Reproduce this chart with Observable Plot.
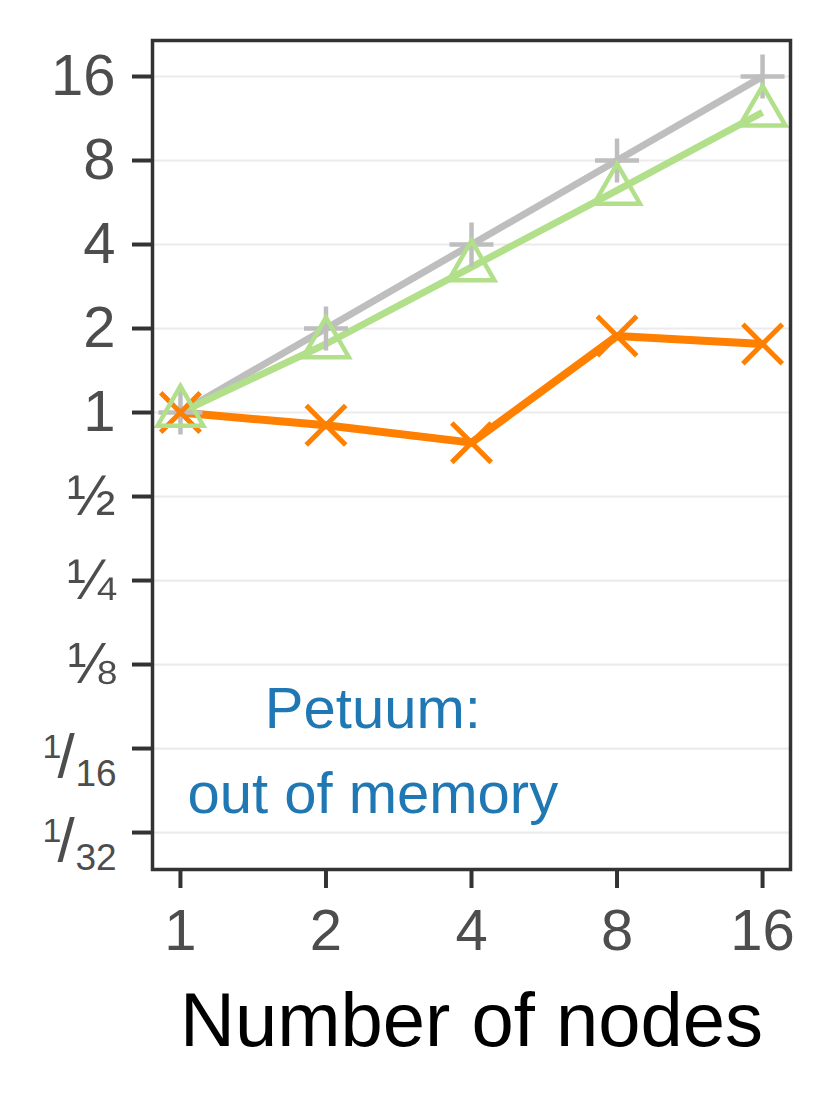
<!DOCTYPE html>
<html><head><meta charset="utf-8">
<script src="https://cdn.jsdelivr.net/npm/d3@7"></script>
<script src="https://cdn.jsdelivr.net/npm/@observablehq/plot@0.6"></script>
<style>body{margin:0;background:#fff}</style>
</head><body><div id="chart"></div>
<script>
// ---- data ----
const nodes = [1, 2, 4, 8, 16];
const idealSpeedup = [1, 2, 4, 8, 16];
const greenSpeedup = [1, 1.76, 3.32, 6.25, 11.9];
const orangeSpeedup = [1, 0.90, 0.78, 1.88, 1.76];
const xTicks = [1, 2, 4, 8, 16];
const yTicks = [16, 8, 4, 2, 1, 1/2, 1/4, 1/8, 1/16, 1/32];
const yTickLabels = ["16", "8", "4", "2", "1", "½", "¼", "⅛", "", ""];
const fracValues = [1/16, 1/32];
const fracNums = ["1", "1"];
const fracDens = ["16", "32"];
const fracSlash = "/";
const xLabel = "Number of nodes";
const note = "Petuum:\nout of memory";
const noteX = 2.5, noteY = 0.0368;

// ---- chart ----
const ink = "#4d4d4d", axisInk = "#333333";
const labelOf = new Map(yTicks.map((t, i) => [t, yTickLabels[i]]));
const fracStyle = {y: Plot.identity, frameAnchor: "left", textAnchor: "start", lineAnchor: "bottom", fill: ink};
const lineStyle = {strokeLinecap: "butt", strokeLinejoin: "round"};

const plot = Plot.plot({
  width: 830, height: 1112,
  marginTop: 40, marginRight: 40, marginBottom: 243, marginLeft: 152,
  style: {fontFamily: "'Liberation Sans', Arial, Helvetica, sans-serif", background: "#fff", overflow: "visible"},
  x: {type: "log", base: 2, domain: [2 ** -0.192, 2 ** 4.192]},
  y: {type: "log", base: 2, domain: [2 ** -5.44, 2 ** 4.4286]},
  marks: [
    Plot.gridY({ticks: yTicks, stroke: "#ebebeb", strokeOpacity: 1, strokeWidth: 2.2}),
    Plot.axisY({ticks: yTicks, tickFormat: d => labelOf.get(d), tickSize: 20, tickPadding: 17,
      fontSize: 58, fill: ink, stroke: axisInk, strokeWidth: 4, label: null}),
    Plot.text(fracValues, {...fracStyle, text: (d, i) => fracNums[i], fontSize: 34, dx: -110, dy: 9}),
    Plot.text(fracValues, {...fracStyle, text: () => fracSlash, fontSize: 62, dx: -95, dy: 28}),
    Plot.text(fracValues, {...fracStyle, text: (d, i) => fracDens[i], fontSize: 37, dx: -77, dy: 37}),
    Plot.axisX({ticks: xTicks, tickFormat: d => String(d), tickSize: 19, tickPadding: 20,
      fontSize: 58, fill: ink, stroke: axisInk, strokeWidth: 4, label: null}),
    Plot.text([xLabel], {text: Plot.identity, frameAnchor: "bottom", lineAnchor: "bottom", dy: 176, fontSize: 76, fill: "#000"}),
    Plot.line(idealSpeedup, {x: nodes, y: idealSpeedup, stroke: "#bebebe", strokeWidth: 7, ...lineStyle}),
    Plot.line(orangeSpeedup, {x: nodes, y: orangeSpeedup, stroke: "#ff7f00", strokeWidth: 8, ...lineStyle}),
    Plot.line(greenSpeedup, {x: nodes, y: greenSpeedup, stroke: "#b2df8a", strokeWidth: 7, ...lineStyle}),
    Plot.dot(idealSpeedup, {x: nodes, y: idealSpeedup, symbol: "plus", r: 14.2, fill: "none", stroke: "#bebebe", strokeWidth: 4.5}),
    Plot.dot(orangeSpeedup, {x: nodes, y: orangeSpeedup, symbol: "times", r: 18, fill: "none", stroke: "#ff7f00", strokeWidth: 5}),
    Plot.dot(greenSpeedup, {x: nodes, y: greenSpeedup, symbol: "triangle", r: 17, fill: "none", stroke: "#b2df8a", strokeWidth: 4.5}),
    Plot.text([note], {x: () => noteX, y: () => noteY, text: Plot.identity, fontSize: 58, lineHeight: 1.466,
      lineAnchor: "bottom", textAnchor: "middle", fill: "#1f78b4"}),
    Plot.frame({stroke: axisInk, strokeWidth: 3.5})
  ]
});
document.getElementById("chart").append(plot);
</script>
</body></html>
